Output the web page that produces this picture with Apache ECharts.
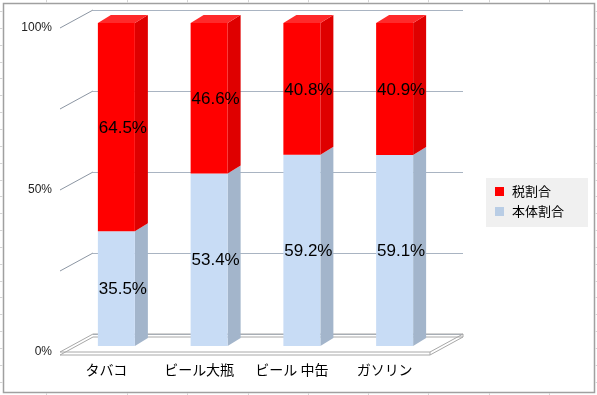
<!DOCTYPE html>
<html><head><meta charset="utf-8">
<script src="https://cdn.jsdelivr.net/npm/echarts@6/dist/echarts.min.js"></script>
<style>html,body{margin:0;padding:0;background:#fff}#c{width:597px;height:395px}</style>
</head><body><div id="c"></div>
<script>
const categories = ['タバコ', 'ビール大瓶', 'ビール 中缶', 'ガソリン'];
const bodyShare = [35.5, 53.4, 59.2, 59.1];
const taxShare = [64.5, 46.6, 40.8, 40.9];
const yTickLabels = [0, 50, 100];
const gridValues = [0, 25, 50, 75, 100];

const chart = echarts.init(document.getElementById('c'), null, {renderer: 'canvas'});

const DX = 13, DY = -8, BW = 37;      // bar depth
const WDX = -33, WDY = 18;             // wall -> front offset

function barRender(colors) {
  return function (params, api) {
    const i = api.value(0), s = api.value(1), e = api.value(2), v = api.value(3);
    const pS = api.coord([i, s]), pE = api.coord([i, e]);
    const l = pS[0] - BW / 2, r = pS[0] + BW / 2;
    const children = [
      {type: 'polygon', shape: {points: [[r, pE[1]], [r + DX, pE[1] + DY], [r + DX, pS[1] + DY], [r, pS[1]]]},
        style: {fill: colors.side}},
      {type: 'rect', shape: {x: l, y: pE[1], width: BW, height: pS[1] - pE[1]},
        style: {fill: colors.front}},
    ];
    if (e >= 100) {
      children.push({type: 'polygon', shape: {points: [[l, pE[1]], [l + DX, pE[1] + DY], [r + DX, pE[1] + DY], [r, pE[1]]]},
        style: {fill: colors.top}});
    }
    children.push({type: 'text', style: {x: pS[0] + DX / 2, y: (pS[1] + pE[1]) / 2 + 1, text: v.toFixed(1) + '%',
      align: 'center', verticalAlign: 'middle', fontSize: 17, fontFamily: 'Liberation Sans, Arial, sans-serif', fill: '#000'}});
    return {type: 'group', children};
  };
}

// decorative spreadsheet cells outside the chart
const deco = [];
const cols = [46, 127, 187, 248, 308, 368, 428, 489, 549];
cols.forEach(x => {
  deco.push({type: 'line', shape: {x1: x + 0.5, y1: 0, x2: x + 0.5, y2: 2.5}, style: {stroke: '#d4d4d4', lineWidth: 1}, z: 0});
  deco.push({type: 'line', shape: {x1: x + 0.5, y1: 393, x2: x + 0.5, y2: 395}, style: {stroke: '#d4d4d4', lineWidth: 1}, z: 0});
});
for (let k = 0; k < 24; k++) {
  const y = Math.round(11 + 16.85 * k) + 0.5;
  deco.push({type: 'line', shape: {x1: 0, y1: y, x2: 2.5, y2: y}, style: {stroke: '#d4d4d4', lineWidth: 1}, z: 0});
  deco.push({type: 'line', shape: {x1: 595.5, y1: y, x2: 597, y2: y}, style: {stroke: '#d4d4d4', lineWidth: 1}, z: 0});
}
deco.push({type: 'rect', shape: {x: 3.5, y: 3.5, width: 591, height: 389}, style: {fill: '#fff', stroke: '#a0a0a0', lineWidth: 1.5}, z: -1});

const option = {
  animation: false,
  backgroundColor: '#fff',
  graphic: deco,
  grid: [
    {left: 93, top: 10, width: 370, height: 324},   // back wall
    {left: 60, top: 28, width: 371, height: 324},   // front plane (labels)
    {left: 70, top: 23, width: 371, height: 323}    // bar fronts
  ],
  xAxis: [
    {gridIndex: 0, type: 'value', min: 0, max: 1, show: false},
    {gridIndex: 1, type: 'category', data: categories, axisLine: {show: false}, axisTick: {show: false},
      axisLabel: {interval: 0, margin: 11, fontSize: 14, color: '#000', fontFamily: 'Noto Sans CJK JP'}},
    {gridIndex: 2, type: 'category', data: categories, show: false}
  ],
  yAxis: [
    {gridIndex: 0, type: 'value', min: 0, max: 100, interval: 25, axisLabel: {show: false},
      axisLine: {show: false}, axisTick: {show: false}, splitLine: {show: true, lineStyle: {color: '#a9b4c2', width: 1}}},
    {gridIndex: 1, type: 'value', min: 0, max: 100, interval: 50, axisLine: {show: false}, axisTick: {show: false},
      splitLine: {show: false},
      axisLabel: {margin: 8, fontSize: 12, color: '#222', fontFamily: 'Liberation Sans, Arial, sans-serif', formatter: '{value}%'}},
    {gridIndex: 2, type: 'value', min: 0, max: 100, show: false}
  ],
  legend: {
    data: ['税割合', '本体割合'],
    orient: 'vertical', left: 486, top: 178,
    backgroundColor: '#f0f0f0', padding: [7, 24, 9, 9],
    itemWidth: 9, itemHeight: 9, itemGap: 7, icon: 'rect',
    textStyle: {fontSize: 13, color: '#000', fontFamily: 'Noto Sans CJK JP', padding: [0, 0, 0, 3]}
  },
  series: [
    { // wall diagonals
      type: 'custom', xAxisIndex: 0, yAxisIndex: 0, silent: true, z: 1,
      data: gridValues.filter(v => v > 0).map(v => [0, v]),
      renderItem: function (params, api) {
        const p = api.coord([0, api.value(1)]);
        return {type: 'line', shape: {x1: p[0], y1: p[1], x2: p[0] + WDX, y2: p[1] + WDY},
          style: {stroke: '#8c96a3', lineWidth: 1}};
      }
    },
    { // floor slab
      type: 'custom', xAxisIndex: 0, yAxisIndex: 0, silent: true, z: 2,
      data: [[0, 0]],
      renderItem: function (params, api) {
        const a = api.coord([0, 0]), b = api.coord([1, 0]);
        const T = 3;
        const top = [[a[0], a[1]], [b[0], b[1]], [b[0] + WDX, b[1] + WDY], [a[0] + WDX, a[1] + WDY]];
        const bot = top.map(p => [p[0], p[1] + T]);
        return {type: 'group', children: [
          {type: 'polygon', shape: {points: bot}, style: {fill: '#fff', stroke: '#a8a8a8', lineWidth: 1}},
          {type: 'polygon', shape: {points: top}, style: {fill: 'none', stroke: '#a8a8a8', lineWidth: 1}},
          {type: 'line', shape: {x1: top[2][0], y1: top[2][1], x2: bot[2][0], y2: bot[2][1]}, style: {stroke: '#a8a8a8'}},
          {type: 'line', shape: {x1: top[1][0], y1: top[1][1], x2: bot[1][0], y2: bot[1][1]}, style: {stroke: '#a8a8a8'}}
        ]};
      }
    },
    {
      name: '本体割合', type: 'custom', xAxisIndex: 2, yAxisIndex: 2, z: 3,
      itemStyle: {color: '#b9cde5'},
      data: bodyShare.map((v, i) => [i, 0, v, v]),
      renderItem: barRender({front: '#c8dcf5', side: '#a3b5cb', top: '#d8e6f8'})
    },
    {
      name: '税割合', type: 'custom', xAxisIndex: 2, yAxisIndex: 2, z: 4,
      itemStyle: {color: '#ff0000'},
      data: taxShare.map((v, i) => [i, bodyShare[i], bodyShare[i] + v, v]),
      renderItem: barRender({front: '#ff0000', side: '#df0000', top: '#ff2a2a'})
    }
  ]
};
chart.setOption(option);
</script>
</body></html>
